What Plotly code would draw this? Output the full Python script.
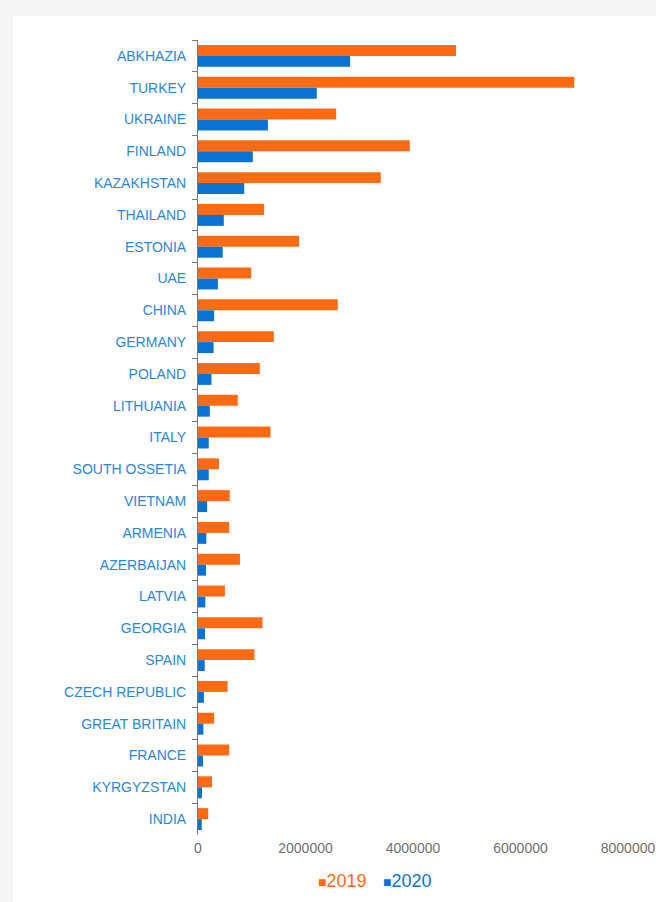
import plotly.graph_objects as go

countries = ["ABKHAZIA", "TURKEY", "UKRAINE", "FINLAND", "KAZAKHSTAN", "THAILAND",
             "ESTONIA", "UAE", "CHINA", "GERMANY", "POLAND", "LITHUANIA", "ITALY",
             "SOUTH OSSETIA", "VIETNAM", "ARMENIA", "AZERBAIJAN", "LATVIA", "GEORGIA",
             "SPAIN", "CZECH REPUBLIC", "GREAT BRITAIN", "FRANCE", "KYRGYZSTAN", "INDIA"]

values_2019 = [4800000, 7000000, 2570000, 3940000, 3400000, 1230000,
               1880000, 990000, 2600000, 1410000, 1150000, 740000, 1350000,
               390000, 590000, 580000, 780000, 500000, 1200000,
               1050000, 550000, 300000, 580000, 260000, 190000]

values_2020 = [2830000, 2210000, 1300000, 1020000, 860000, 480000,
               460000, 370000, 300000, 290000, 250000, 220000, 200000,
               200000, 170000, 155000, 150000, 136000, 130000,
               125000, 110000, 100000, 93000, 75000, 70000]

x_ticks = [0, 2000000, 4000000, 6000000, 8000000]
series_names = ["2019", "2020"]

ORANGE = "#ff6a13"
BLUE = "#0a72d1"
colors = [ORANGE, BLUE]

L, R, T, B = 198, 28, 40, 67
W, H = 656, 902
pw, ph = W - L - R, H - T - B

def px(xp):
    return (xp - L) / pw

def py(yp):
    return (H - B - yp) / ph

fig = go.Figure()
for name, vals, col in zip(series_names, [values_2019, values_2020], colors):
    fig.add_trace(go.Bar(
        y=countries, x=vals, orientation="h", name=name,
        marker=dict(color=col, line=dict(width=0)), showlegend=False,
        hoverinfo="skip",
    ))
# legend entries (small square + coloured text), one legend box each
legend_ids = ["legend", "legend2"]
for name, col, lg in zip(series_names, colors, legend_ids):
    fig.add_trace(go.Scatter(
        x=[None], y=[None], mode="markers",
        marker=dict(size=1, color="rgba(0,0,0,0)"),
        name='<span style="color:%s"><span style="font-size:14px">■</span>%s</span>' % (col, name),
        showlegend=True, legend=lg,
    ))

fig.add_shape(type="rect", xref="paper", yref="paper",
              x0=px(12), x1=px(662), y0=py(908), y1=py(15),
              fillcolor="white", line=dict(color="#ececec", width=1), layer="below")

legend_common = dict(orientation="h", xanchor="left", yanchor="middle",
                     font=dict(size=18), bgcolor="rgba(0,0,0,0)",
                     itemwidth=30, tracegroupgap=0)

fig.update_layout(
    width=W, height=H,
    margin=dict(l=L, r=R, t=T, b=B, pad=0, autoexpand=False),
    paper_bgcolor="#f5f5f5",
    plot_bgcolor="rgba(0,0,0,0)",
    barmode="group",
    bargap=0.31,
    bargroupgap=0,
    font=dict(family="Arial, Liberation Sans, sans-serif"),
    showlegend=True,
    legend=dict(x=px(278), y=py(880), **legend_common),
    legend2=dict(x=px(343), y=py(880), **legend_common),
    xaxis=dict(range=[0, 8000000], tickvals=x_ticks, tickformat="d",
               showgrid=False, zeroline=False, showline=False, automargin=False,
               ticklabelstandoff=3,
               tickfont=dict(size=14, color="#707070"), ticks=""),
    yaxis=dict(autorange="reversed", showgrid=False, zeroline=False, automargin=False,
               showline=True, linecolor="#777777", linewidth=1,
               ticks="outside", tickson="boundaries", ticklen=5, tickcolor="#777777",
               ticklabelstandoff=8,
               tickfont=dict(size=14, color="#2b86d9")),
)

fig.write_html("out.html", config={"displayModeBar": False},
               post_script="document.body.style.margin='0';document.body.style.overflow='hidden';")
